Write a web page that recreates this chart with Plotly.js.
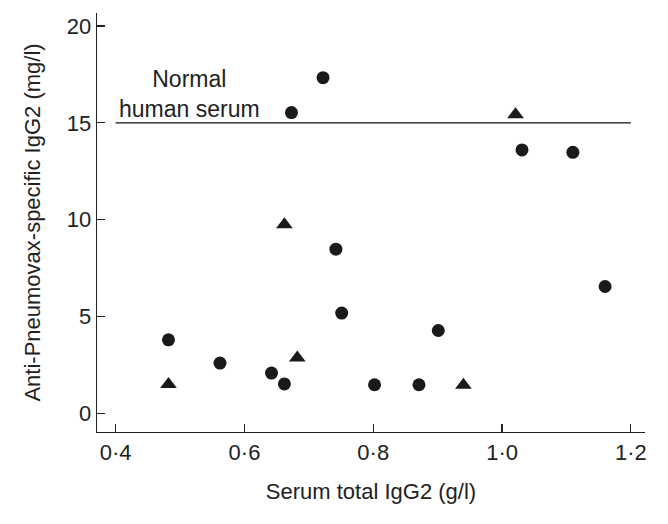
<!DOCTYPE html>
<html>
<head>
<meta charset="utf-8">
<script src="https://cdn.plot.ly/plotly-3.0.1.min.js"></script>
<style>html,body{margin:0;padding:0;background:#fff;}#chart{width:668px;height:524px;}</style>
</head>
<body>
<div id="chart"></div>
<script>
// Circles
var circleX = [0.482, 0.562, 0.642, 0.662, 0.673, 0.722, 0.742, 0.751, 0.802, 0.871, 0.901, 1.031, 1.110, 1.160];
var circleY = [3.80, 2.60, 2.08, 1.52, 15.53, 17.33, 8.48, 5.18, 1.48, 1.48, 4.28, 13.60, 13.48, 6.55];
// Triangles
var triX = [0.482, 0.662, 0.682, 0.940, 1.021];
var triY = [1.50, 9.75, 2.87, 1.46, 15.43];
// Normal human serum reference line
var normalX = [0.4, 1.2];
var normalY = [15, 15];
var xTickVals = [0.4, 0.6, 0.8, 1.0, 1.2];
var xTickText = ['0·4', '0·6', '0·8', '1·0', '1·2'];
var yTickVals = [0, 5, 10, 15, 20];
var yTickText = ['0', '5', '10', '15', '20'];

var font = 'Liberation Sans, Arial, sans-serif';
var data = [
  {x: normalX, y: normalY, mode: 'lines', line: {color: '#111', width: 1.3}, showlegend: false, hoverinfo: 'skip'},
  {x: circleX, y: circleY, mode: 'markers', marker: {symbol: 'circle', size: 13, color: '#1a1a1a'}, showlegend: false},
  {x: triX, y: triY, mode: 'markers', marker: {symbol: 'triangle-up', size: 14.5, color: '#1a1a1a'}, showlegend: false}
];
var layout = {
  width: 668, height: 524,
  margin: {l: 97, r: 23, t: 13, b: 92},
  paper_bgcolor: '#fff', plot_bgcolor: '#fff',
  font: {family: font, color: '#222', size: 22},
  xaxis: {
    range: [0.371, 1.222], showgrid: false, zeroline: false,
    showline: true, linecolor: '#222', linewidth: 1.3,
    ticks: 'inside', ticklen: 8, tickwidth: 1.3, tickcolor: '#222',
    tickvals: xTickVals, ticktext: xTickText,
    tickfont: {family: font, size: 22, color: '#222'},
    title: {text: 'Serum total IgG2 (g/l)', font: {family: font, size: 22, color: '#222'}, standoff: 20},
    automargin: false
  },
  yaxis: {
    range: [-0.96, 20.67], showgrid: false, zeroline: false,
    showline: true, linecolor: '#222', linewidth: 1.3,
    ticks: 'inside', ticklen: 8, tickwidth: 1.3, tickcolor: '#222',
    tickvals: yTickVals, ticktext: yTickText,
    tickfont: {family: font, size: 22, color: '#222'},
    title: {text: 'Anti-Pneumovax-specific IgG2 (mg/l)', font: {family: font, size: 22, color: '#222'}, standoff: 20},
    automargin: false
  },
  annotations: [{
    x: 0.514, y: 16.5, xref: 'x', yref: 'y', showarrow: false,
    text: 'Normal<br>human serum', align: 'center',
    font: {family: font, size: 23, color: '#222'}
  }]
};
Plotly.newPlot('chart', data, layout, {staticPlot: true});
</script>
</body>
</html>
